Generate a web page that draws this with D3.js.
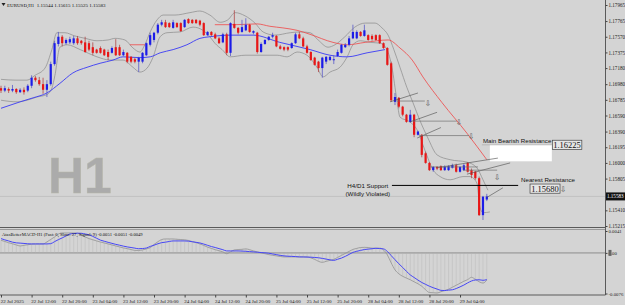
<!DOCTYPE html>
<html><head><meta charset="utf-8">
<script src="https://cdn.jsdelivr.net/npm/d3@7"></script>
<style>html,body{margin:0;padding:0;background:#d4d4d4;overflow:hidden}svg{display:block}</style>
</head><body><svg id="c" width="625" height="305"></svg>
<script>
// ---------- DATA ----------
const open=[1.1693,1.1690,1.1692,1.1690,1.1692,1.1688,1.1691,1.1690,1.1696,1.1706,
1.1703,1.1698,1.1691,1.1698,1.1723,1.1748,1.1757,1.1749,1.1750,1.1749,
1.1755,1.1752,1.1750,1.1749,1.1744,1.1741,1.1743,1.1741,1.1738,1.1737,
1.1744,1.1744,1.1734,1.1737,1.1732,1.1729,1.1726,1.1726,1.1734,1.1747,
1.1753,1.1762,1.1772,1.1775,1.1774,1.1768,1.1774,1.1774,1.1769,1.1779,
1.1778,1.1778,1.1777,1.1774,1.1759,1.1763,1.1760,1.1755,1.1750,1.1760,
1.1737,1.1773,1.1768,1.1763,1.1765,1.1772,1.1762,1.1762,1.1738,1.1748,
1.1753,1.1757,1.1758,1.1745,1.1744,1.1744,1.1743,1.1749,1.1760,1.1755,
1.1745,1.1738,1.1731,1.1726,1.1718,1.1726,1.1728,1.1728,1.1733,1.1737,
1.1744,1.1747,1.1755,1.1755,1.1763,1.1758,1.1759,1.1758,1.1759,1.1759,
1.1749,1.1743,1.1724,1.1676,1.1681,1.1670,1.1660,1.1651,1.1660,1.1635,
1.1635,1.1612,1.1600,1.1591,1.1595,1.1596,1.1591,1.1591,1.1594,1.1597,
1.1589,1.1591,1.1600,1.1591,1.1589,1.1581,1.1535,1.15544];
const high=[1.1696,1.1696,1.1694,1.1697,1.1693,1.1693,1.1694,1.1698,1.1709,1.1708,
1.1707,1.1706,1.1703,1.1726,1.1752,1.1763,1.1759,1.1755,1.1757,1.1758,
1.1758,1.1753,1.1757,1.1752,1.1750,1.1742,1.1745,1.1742,1.1741,1.1745,
1.1754,1.1747,1.1741,1.1738,1.1733,1.1731,1.1732,1.1738,1.1750,1.1762,
1.1763,1.1774,1.1778,1.1778,1.1775,1.1778,1.1775,1.1775,1.1779,1.1780,
1.1779,1.1779,1.1778,1.1775,1.1764,1.1764,1.1762,1.1757,1.1762,1.1762,
1.1775,1.1790,1.1769,1.1778,1.1780,1.1773,1.1765,1.1763,1.1750,1.1754,
1.1758,1.1762,1.1759,1.1747,1.1745,1.1745,1.1750,1.1762,1.1763,1.1757,
1.1747,1.1739,1.1732,1.1727,1.1732,1.1733,1.1733,1.1734,1.1741,1.1748,
1.1749,1.1758,1.1772,1.1765,1.1764,1.1772,1.1760,1.1760,1.1760,1.1760,
1.1750,1.1744,1.1726,1.1687,1.1682,1.1671,1.1661,1.1666,1.1661,1.1640,
1.1636,1.1614,1.1601,1.1596,1.1596,1.1597,1.1597,1.1597,1.1599,1.1599,
1.1596,1.1599,1.1601,1.1593,1.1590,1.1583,1.1559,1.15615];
const low=[1.1687,1.1688,1.1687,1.1688,1.1686,1.1687,1.1685,1.1688,1.1693,1.1701,
1.1696,1.1686,1.1682,1.1696,1.1721,1.1745,1.1745,1.1747,1.1748,1.1747,
1.1747,1.1747,1.1737,1.1739,1.1734,1.1736,1.1736,1.1733,1.1728,1.1736,
1.1733,1.1733,1.1733,1.1724,1.1724,1.1724,1.1713,1.1724,1.1733,1.1745,
1.1750,1.1760,1.1770,1.1768,1.1768,1.1767,1.1768,1.1763,1.1768,1.1773,
1.1773,1.1773,1.1770,1.1758,1.1758,1.1758,1.1754,1.1748,1.1749,1.1734,
1.1733,1.1767,1.1760,1.1762,1.1764,1.1762,1.1760,1.1736,1.1737,1.1747,
1.1752,1.1755,1.1744,1.1741,1.1739,1.1739,1.1742,1.1748,1.1754,1.1744,
1.1736,1.1727,1.1721,1.1713,1.1706,1.1723,1.1727,1.1723,1.1732,1.1736,
1.1743,1.1745,1.1754,1.1754,1.1757,1.1757,1.1752,1.1752,1.1752,1.1748,
1.1742,1.1721,1.1676,1.1672,1.1668,1.1658,1.1650,1.1650,1.1632,1.1634,
1.1607,1.1599,1.1590,1.1589,1.1591,1.1590,1.1590,1.1590,1.1593,1.1588,
1.1588,1.1590,1.1588,1.1581,1.1579,1.1534,1.1529,1.15525];
const close=[1.1690,1.1693,1.1690,1.1692,1.1688,1.1691,1.1688,1.1696,1.1706,1.1703,
1.1698,1.1691,1.1698,1.1723,1.1749,1.1757,1.1749,1.1753,1.1754,1.1755,
1.1749,1.1749,1.1738,1.1741,1.1737,1.1737,1.1737,1.1734,1.1732,1.1743,
1.1734,1.1734,1.1738,1.1726,1.1726,1.1726,1.1731,1.1737,1.1749,1.1759,
1.1762,1.1772,1.1775,1.1769,1.1769,1.1775,1.1769,1.1764,1.1778,1.1774,
1.1774,1.1774,1.1772,1.1759,1.1763,1.1759,1.1755,1.1749,1.1760,1.1737,
1.1774,1.1768,1.1762,1.1769,1.1772,1.1763,1.1764,1.1738,1.1748,1.1753,
1.1757,1.1759,1.1745,1.1742,1.1741,1.1741,1.1749,1.1760,1.1755,1.1745,
1.1737,1.1728,1.1722,1.1718,1.1731,1.1732,1.1732,1.1729,1.1738,1.1747,
1.1747,1.1755,1.1763,1.1763,1.1758,1.1765,1.1753,1.1754,1.1753,1.1749,
1.1743,1.1722,1.1678,1.1682,1.1670,1.1660,1.1651,1.1660,1.1635,1.1639,
1.1610,1.1600,1.1591,1.1595,1.1593,1.1591,1.1595,1.1596,1.1597,1.1589,
1.1595,1.1597,1.1589,1.1585,1.1581,1.1535,1.1558,1.15583];

// Bollinger-style bands [barIndex, price]
const bandUpper=[[0,1.1704],[3.7,1.1703],[6.8,1.1703],[8.9,1.1709],[11.5,1.1718],[13.3,1.1741],[14.6,1.1762],[16.7,1.1762],[19.3,1.1758],[22,1.1755],[25.1,1.1752],[28,1.1753],[29.8,1.1755],[32.4,1.1753],[34.5,1.1743],[36.3,1.1738],[37.6,1.1747],[39,1.1763],[40.8,1.1778],[42.4,1.1784],[45.5,1.1784],[49.4,1.1787],[52,1.1789],[54.6,1.1784],[57.3,1.1775],[59.3,1.1778],[61.2,1.1787],[63.8,1.1783],[66.4,1.1774],[68.5,1.1763],[71.6,1.1759],[75.6,1.1762],[78.2,1.1763],[80.8,1.1762],[82.9,1.1753],[85.5,1.1744],[87.3,1.1747],[89.9,1.1757],[92.5,1.1769],[95.2,1.1774],[97.8,1.1774],[99.6,1.1768],[101.2,1.1759],[102.7,1.1741],[104.3,1.1719],[106.1,1.1694],[107.7,1.1675],[109.5,1.1653],[111.6,1.1631],[114,1.1610],[117.4,1.1604],[121.8,1.1601],[124.4,1.1594],[126,1.1579],[127.3,1.1566]];
const bandLower=[[0,1.1678],[4.2,1.1676],[6.8,1.1678],[9.4,1.1682],[12,1.1685],[13.3,1.1693],[14.1,1.1709],[15.4,1.1744],[17.3,1.1747],[20.7,1.1741],[25.1,1.1732],[28.5,1.1728],[31.9,1.1728],[34.5,1.1719],[36.3,1.1713],[38.2,1.1718],[39.7,1.1731],[41.6,1.1757],[43.4,1.1762],[46.8,1.1763],[50.2,1.1769],[52.8,1.1765],[54.6,1.1757],[55.9,1.1749],[57.8,1.1741],[59.9,1.1732],[63.8,1.1734],[67.2,1.1734],[72.2,1.1734],[74.8,1.1732],[77.4,1.1738],[80,1.1734],[82.6,1.1719],[84.2,1.1707],[86,1.1713],[88.6,1.1719],[90.5,1.1732],[92,1.1747],[93.9,1.1752],[96.5,1.1750],[99.1,1.1749],[100.9,1.1741],[102.2,1.1719],[103.5,1.1678],[104.3,1.1657],[106.9,1.1651],[108.8,1.1641],[110.8,1.1616],[113,1.1591],[114.8,1.1583],[117.4,1.1579],[120.8,1.1583],[122.6,1.1583],[124.4,1.1575],[125.2,1.1545],[126,1.1538],[127.8,1.1539]];
const maBlue=[[0,1.1668],[5,1.1676],[8.4,1.1681],[12,1.1687],[15.4,1.1699],[18.8,1.1712],[22.5,1.1719],[25.9,1.1724],[29.3,1.1728],[31.9,1.1732],[36.3,1.1731],[39,1.1732],[41.6,1.1737],[45,1.1741],[48.6,1.1747],[52,1.1755],[54.6,1.1757],[59.9,1.1759],[65.9,1.1759],[72.9,1.1750],[80.8,1.1741],[86,1.1734],[90.5,1.1732],[95.7,1.1737],[100.4,1.1741]];
const maRedA=[[33.7,1.1747],[37.6,1.1747]];
const maRedB=[[55.9,1.1772],[61.2,1.1772],[66.9,1.1773],[70.3,1.1770],[73.7,1.1768],[77.4,1.1765],[80.8,1.1760],[86.8,1.1750],[90.5,1.1747],[95.2,1.1750],[101.2,1.1753],[104.3,1.1743],[107.5,1.1728],[110.3,1.1707],[115.3,1.1675],[121.8,1.1637],[127,1.1604]];

const macdMain=[0.00237,0.00214,0.00190,0.00171,0.00149,0.00130,0.00142,0.00153,0.00164,0.00168,
0.00168,0.00168,0.00205,0.00252,0.00298,0.00354,0.00373,0.00373,0.00373,0.00373,
0.00367,0.00336,0.00298,0.00268,0.00246,0.00224,0.00203,0.00186,0.00168,0.00149,
0.00130,0.00112,0.00093,0.00080,0.00063,0.00047,0.00045,0.00056,0.00075,0.00097,
0.00158,0.00209,0.00250,0.00261,0.00261,0.00261,0.00255,0.00250,0.00246,0.00233,
0.00212,0.00192,0.00168,0.00140,0.00108,0.00084,0.00060,0.00041,0.00019,-0.00015,
0.00019,0.00056,0.00063,0.00067,0.00075,0.00060,0.00037,0.00019,0.00000,-0.00015,
-0.00032,-0.00045,-0.00056,-0.00067,-0.00075,-0.00075,-0.00075,-0.00075,-0.00075,-0.00075,
-0.00075,-0.00093,-0.00121,-0.00158,-0.00177,-0.00158,-0.00140,-0.00121,-0.00084,-0.00047,
-0.00009,0.00028,0.00065,0.00084,0.00101,0.00104,0.00101,0.00089,0.00088,0.00088,
0.00056,-0.00037,-0.00186,-0.00317,-0.00391,-0.00438,-0.00472,-0.00503,-0.00541,-0.00578,
-0.00624,-0.00690,-0.00742,-0.00746,-0.00751,-0.00727,-0.00705,-0.00680,-0.00643,-0.00606,
-0.00569,-0.00531,-0.00500,-0.00457,-0.00494,-0.00541,-0.00565,-0.00510];
const macdSignal=[0.00268,0.00244,0.00224,0.00201,0.00188,0.00183,0.00177,0.00171,0.00168,0.00168,
0.00168,0.00168,0.00168,0.00173,0.00211,0.00248,0.00281,0.00317,0.00354,0.00362,
0.00369,0.00367,0.00354,0.00339,0.00309,0.00274,0.00239,0.00218,0.00198,0.00179,
0.00160,0.00144,0.00127,0.00112,0.00101,0.00089,0.00078,0.00082,0.00091,0.00121,
0.00144,0.00171,0.00192,0.00201,0.00214,0.00224,0.00224,0.00224,0.00224,0.00220,
0.00209,0.00198,0.00186,0.00166,0.00142,0.00119,0.00101,0.00080,0.00060,0.00037,
0.00037,0.00037,0.00037,0.00034,0.00030,0.00024,0.00019,0.00013,0.00007,0.00002,
-0.00006,-0.00019,-0.00032,-0.00047,-0.00056,-0.00062,-0.00065,-0.00069,-0.00075,-0.00076,
-0.00078,-0.00080,-0.00086,-0.00091,-0.00103,-0.00116,-0.00130,-0.00140,-0.00119,-0.00097,
-0.00065,-0.00028,0.00009,0.00030,0.00047,0.00063,0.00071,0.00078,0.00086,0.00082,
0.00075,0.00028,-0.00050,-0.00127,-0.00203,-0.00272,-0.00345,-0.00412,-0.00460,-0.00509,
-0.00554,-0.00589,-0.00624,-0.00652,-0.00677,-0.00701,-0.00705,-0.00697,-0.00690,-0.00667,
-0.00636,-0.00602,-0.00561,-0.00526,-0.00507,-0.00503,-0.00513,-0.00500];

const dateLabels=["22 Jul 2025","22 Jul 12:00","22 Jul 20:00","23 Jul 04:00","23 Jul 12:00","23 Jul 20:00","24 Jul 04:00","24 Jul 12:00","24 Jul 20:00","25 Jul 04:00","25 Jul 12:00","25 Jul 20:00","28 Jul 04:00","28 Jul 12:00","28 Jul 20:00","29 Jul 04:00"];
const dateTickIdx=[0,8,16,24,32,40,48,56,64,72,80,88,96,104,112,120];
const priceTicks=[1.17965,1.17765,1.17570,1.17375,1.17180,1.16980,1.16785,1.16590,1.16390,1.16195,1.16000,1.15805,1.15410,1.15215];
const macdTicks=[0.0041,0,-0.0076];
const macdTickLabels=["0.0041","0.00","-0.0076"];
const headerText="EURUSD,H1  1.15544 1.15615 1.15525 1.15583";
const macdTitle="AtasBetterMACD-H1 (Fast: 6, Slow: 27, Signal: 9) -0.0051 -0.0051 -0.0049";
const lastPrice=1.15583;

// annotations (bar index / price)
const trendLines=[[101.7,1.1676,109,1.1687],[106.9,1.1651,114,1.1663],[108.8,1.1631,115,1.1644],[114,1.1594,129.9,1.1606],[121.8,1.1586,133.1,1.1600],[127,1.1557,131.2,1.1569]];
const hLines=[[103.5,110.8,1.1677],[107.7,119.2,1.1652],[109.5,122.4,1.1634],[112.2,124.7,1.1595],[120.8,129.7,1.1591]];
const arrowPts=[[111.6,1.1675],[119.7,1.1651],[122.9,1.1634],[129.7,1.1583]];
const supportLine=[102.2,135.2,1.1572];
const supportText=["H4/D1 Support","(Wildly Violated)"];
const zoneRect=[127.8,144,1.16225,1.1602];
const mainRes={label:"Main Bearish Resistance",price:1.16225,idx:144};
const nearRes={label:"Nearest Resistance",price:1.15680,idx:138.3};

// ---------- DRAW ----------
const svg=d3.select("#c");
const W=625,AX=605.5;
const x=d3.scaleLinear().domain([0,127]).range([1,486.8]);
const y=d3.scaleLinear().domain([1.15215,1.17965]).range([226,5]);
const ym=d3.scaleLinear().domain([-0.0076,0.0041]).range([293.5,231]);
const SERIF="Liberation Serif, Times New Roman, serif";
const SANS="Liberation Sans, Arial, sans-serif";

svg.append("rect").attr("width",W).attr("height",305).attr("fill","#d4d4d4");
const defs=svg.append("defs");
defs.append("clipPath").attr("id","cm").append("rect").attr("x",0).attr("y",0).attr("width",AX).attr("height",227);
defs.append("clipPath").attr("id","cd").append("rect").attr("x",0).attr("y",229).attr("width",AX).attr("height",66);

// watermark
svg.append("text").attr("x",48).attr("y",193).attr("font-family",SANS)
  .attr("font-weight","bold").attr("font-size",50).attr("fill","#ababab").attr("stroke","#b8b8a8").attr("stroke-width",0.4).text("H1");

const main=svg.append("g").attr("clip-path","url(#cm)");
main.append("line").attr("x1",0).attr("x2",AX).attr("y1",y(lastPrice)).attr("y2",y(lastPrice)).attr("stroke","#bdbdbd").attr("stroke-width",0.8);

const ln=d3.line().x(d=>x(d[0])).y(d=>y(d[1])).curve(d3.curveMonotoneX);
[bandUpper,bandLower].forEach(b=>main.append("path").attr("d",ln(b)).attr("fill","none").attr("stroke","#8a8a8a").attr("stroke-width",0.7));
main.append("path").attr("d",ln(maBlue)).attr("fill","none").attr("stroke","#3a3af5").attr("stroke-width",0.9);
[maRedA,maRedB].forEach(r=>main.append("path").attr("d",ln(r)).attr("fill","none").attr("stroke","#f04646").attr("stroke-width",0.8));

// candles
const idx=d3.range(open.length);
const cg=main.append("g");
cg.selectAll("line.w").data(idx).join("line").attr("class","w")
  .attr("x1",i=>x(i)).attr("x2",i=>x(i)).attr("y1",i=>y(high[i])).attr("y2",i=>y(low[i]))
  .attr("stroke",i=>close[i]>=open[i]?"#5a5ac8":"#b04848").attr("stroke-width",0.8);
cg.selectAll("rect.b").data(idx).join("rect").attr("class","b")
  .attr("x",i=>x(i)-1.1).attr("width",2.2)
  .attr("y",i=>y(Math.max(open[i],close[i])))
  .attr("height",i=>Math.max(1,Math.abs(y(open[i])-y(close[i]))))
  .attr("fill",i=>close[i]>=open[i]?"#1c1ce8":"#e81616");

// annotations
const ag=svg.append("g");
ag.append("rect").attr("x",x(zoneRect[0])).attr("width",x(zoneRect[1])-x(zoneRect[0]))
  .attr("y",y(zoneRect[2])).attr("height",y(zoneRect[3])-y(zoneRect[2])).attr("fill","#ffffff");
ag.selectAll("line.t").data(trendLines).join("line").attr("class","t")
  .attr("x1",d=>x(d[0])).attr("y1",d=>y(d[1])).attr("x2",d=>x(d[2])).attr("y2",d=>y(d[3]))
  .attr("stroke","#4a4a4a").attr("stroke-width",0.6);
ag.selectAll("line.h").data(hLines).join("line").attr("class","h")
  .attr("x1",d=>x(d[0])).attr("x2",d=>x(d[1])).attr("y1",d=>y(d[2])).attr("y2",d=>y(d[2]))
  .attr("stroke","#707070").attr("stroke-width",0.7);
ag.selectAll("text.a").data(arrowPts).join("text").attr("class","a")
  .attr("x",d=>x(d[0])).attr("y",d=>y(d[1])+3.5).attr("text-anchor","middle")
  .attr("font-family","DejaVu Sans").attr("font-size",7.5).attr("fill","#555").text("\u21E9");
ag.append("line").attr("x1",x(supportLine[0])).attr("x2",x(supportLine[1])).attr("y1",y(supportLine[2])).attr("y2",y(supportLine[2]))
  .attr("stroke","#000").attr("stroke-width",1);
const sx=x(95.9);
supportText.forEach((t,k)=>ag.append("text").attr("x",sx).attr("y",y(supportLine[2])+3+k*8).attr("text-anchor","middle")
  .attr("font-family",SANS).attr("font-size",6.2).attr("fill","#111").text(t));
const my=y(mainRes.price);
ag.append("line").attr("x1",x(zoneRect[0])-8).attr("x2",x(mainRes.idx)).attr("y1",my).attr("y2",my).attr("stroke","#9a9a9a").attr("stroke-width",0.5);
ag.append("text").attr("x",x(mainRes.idx)-0.5).attr("y",my-1.6).attr("text-anchor","end")
  .attr("font-family",SANS).attr("font-size",6.2).attr("fill","#111").text(mainRes.label);
ag.append("rect").attr("x",x(mainRes.idx)+0.5).attr("y",my-4.6).attr("width",29.5).attr("height",9.2)
  .attr("fill","#e6e6e6").attr("stroke","#444").attr("stroke-width",0.7);
ag.append("text").attr("x",x(mainRes.idx)+15.2).attr("y",my+3).attr("text-anchor","middle")
  .attr("font-family",SERIF).attr("font-size",8.5).attr("fill","#111").text(mainRes.price.toFixed(5));
const ny=y(nearRes.price);
ag.append("text").attr("x",x(nearRes.idx)+18).attr("y",ny-6.5).attr("text-anchor","middle")
  .attr("font-family",SANS).attr("font-size",6.2).attr("fill","#111").text(nearRes.label);
ag.append("rect").attr("x",x(nearRes.idx)).attr("y",ny-4.6).attr("width",30).attr("height",9.2)
  .attr("fill","#e6e6e6").attr("stroke","#444").attr("stroke-width",0.7);
ag.append("text").attr("x",x(nearRes.idx)+15).attr("y",ny+3).attr("text-anchor","middle")
  .attr("font-family",SERIF).attr("font-size",8.5).attr("fill","#111").text(nearRes.price.toFixed(5));
ag.append("text").attr("x",x(nearRes.idx)+33).attr("y",ny+3.3).attr("text-anchor","middle")
  .attr("font-family","DejaVu Sans").attr("font-size",7.5).attr("fill","#555").text("\u21E9");

// header
svg.append("path").attr("d","M1.5,3 L5.5,3 L3.5,6 Z").attr("fill","#222");
svg.append("text").attr("x",7).attr("y",7).attr("font-family",SERIF).attr("font-size",5).attr("fill","#111")
  .attr("xml:space","preserve").style("white-space","pre").text(headerText);

// MACD panel
const mg=svg.append("g").attr("clip-path","url(#cd)");
mg.append("line").attr("x1",0).attr("x2",AX).attr("y1",ym(0)).attr("y2",ym(0)).attr("stroke","#ababab").attr("stroke-width",1.6);
mg.selectAll("line.hb").data(idx).join("line").attr("class","hb")
  .attr("x1",i=>x(i)).attr("x2",i=>x(i)).attr("y1",ym(0)).attr("y2",i=>ym(macdMain[i]))
  .attr("stroke","#b4b4b4").attr("stroke-width",0.4);
const lm=d3.line().x((d,i)=>x(i)).y(d=>ym(d)).curve(d3.curveMonotoneX);
mg.append("path").attr("d",lm(macdMain)).attr("fill","none").attr("stroke","#929292").attr("stroke-width",0.8);
mg.append("path").attr("d",lm(macdSignal)).attr("fill","none").attr("stroke","#4646f5").attr("stroke-width",1);
svg.append("text").attr("x",2).attr("y",235.5).attr("font-family",SERIF).attr("font-size",4.6).attr("fill","#111").text(macdTitle);

// frame lines
svg.append("line").attr("x1",0).attr("x2",AX).attr("y1",227.5).attr("y2",227.5).attr("stroke","#5a5a5a").attr("stroke-width",1.2);
svg.append("line").attr("x1",0).attr("x2",AX).attr("y1",229.5).attr("y2",229.5).attr("stroke","#8c8c8c").attr("stroke-width",0.8);
svg.append("line").attr("x1",0).attr("x2",AX).attr("y1",295).attr("y2",295).attr("stroke","#5a5a5a").attr("stroke-width",1);
svg.append("line").attr("x1",AX).attr("x2",AX).attr("y1",0).attr("y2",295).attr("stroke","#5a5a5a").attr("stroke-width",1);

// price axis
const pa=svg.append("g").attr("transform",`translate(${AX},0)`)
  .call(d3.axisRight(y).tickValues(priceTicks).tickSize(2).tickPadding(1).tickFormat(d=>d.toFixed(5)));
pa.select(".domain").remove();
pa.selectAll("line").attr("stroke","#444");
pa.selectAll("text").attr("font-family",SERIF).attr("font-size",5.1).attr("fill","#222");
svg.append("rect").attr("x",AX+0.5).attr("y",y(lastPrice)-4).attr("width",19).attr("height",8).attr("fill","#111");
svg.append("text").attr("x",AX+1.5).attr("y",y(lastPrice)+1.8).attr("font-family",SERIF).attr("font-size",5.1).attr("fill","#fff").text(lastPrice.toFixed(5));

// MACD axis
const ma=svg.append("g").attr("transform",`translate(${AX},0)`)
  .call(d3.axisRight(ym).tickValues(macdTicks).tickSize(2).tickPadding(1).tickFormat((d,i)=>macdTickLabels[i]));
ma.select(".domain").remove();
ma.selectAll("line").attr("stroke","#444");
ma.selectAll("text").attr("font-family",SERIF).attr("font-size",4.8).attr("fill","#222");
svg.append("rect").attr("x",AX+3).attr("y",ym(0)-3).attr("width",3).attr("height",6).attr("fill","#666");

// time axis
const ta=svg.append("g").attr("transform","translate(0,295)")
  .call(d3.axisBottom(x).tickValues(dateTickIdx).tickSize(2.5).tickPadding(1.5).tickFormat((d,i)=>dateLabels[i]));
ta.select(".domain").remove();
ta.selectAll("line").attr("stroke","#444");
ta.selectAll("text").attr("text-anchor","start").attr("dx",-0.8).attr("font-family",SERIF).attr("font-size",5).attr("fill","#222");
</script>
</body></html>
